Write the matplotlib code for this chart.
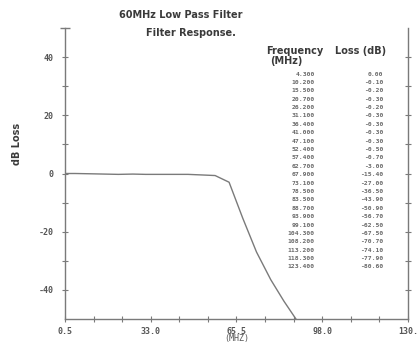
import matplotlib
matplotlib.use("Agg")
import matplotlib.pyplot as plt
import numpy as np

# table printed on the plot
freq = [4.3, 10.2, 15.5, 20.7, 26.2, 31.1, 36.4, 41.0, 47.1, 52.4, 57.4, 62.7,
        67.9, 73.1, 78.5, 83.5, 88.7, 93.9, 99.1, 104.3, 108.2, 113.2, 118.3, 123.4]
loss = [0.00, -0.10, -0.20, -0.30, -0.20, -0.30, -0.30, -0.30, -0.30, -0.50, -0.70, -3.00,
        -15.40, -27.00, -36.50, -43.90, -50.90, -56.70, -62.50, -67.50, -70.70, -74.10, -77.90, -80.60]

# curve starts at the left edge of the axis
start_freq = 0.5
start_loss = 0.0

xticks = [0.5, 33.0, 65.5, 98.0, 130.5]
xticklabels = ["0.5", "33.0", "65.5", "98.0", "130."]
yticks = [40, 20, 0, -20, -40]
yticklabels = ["40", "20", "0", "-20", "-40"]

grey = "#7a7a7a"
dark = "#3a3a3a"
mono = "DejaVu Sans Mono"

fig = plt.figure(figsize=(4.2, 3.47), dpi=100)
ax = fig.add_axes([0.155, 0.081, 0.816, 0.838])

ax.plot([start_freq] + freq, [start_loss] + loss, color=grey, lw=1.0)

ax.set_xlim(0.5, 130.5)
ax.set_ylim(-50, 50)

ax.set_xticks(xticks)
ax.set_xticklabels(xticklabels, family=mono, fontsize=6, color="#555555", fontweight="bold")
ax.set_xticks(np.linspace(0.5, 130.5, 13), minor=True)
ax.set_yticks(yticks)
ax.set_yticklabels(yticklabels, family=mono, fontsize=6, color="#555555", fontweight="bold")
ax.set_yticks(np.arange(-40, 50, 10), minor=True)

ax.tick_params(which="both", direction="inout", length=5, width=0.8, color=grey,
               right=True, top=False)
ax.tick_params(axis="y", pad=6)
ax.tick_params(axis="x", pad=3)

for s in ["left", "bottom", "right"]:
    ax.spines[s].set_color(grey)
    ax.spines[s].set_linewidth(1.0)
ax.spines["top"].set_visible(False)

# cap at the top of the y axis
ax.plot([0], [1], marker="_", markersize=7, mew=1.0, color=grey,
        transform=ax.transAxes, clip_on=False)

ax.set_xlabel("(MHZ)", family=mono, fontsize=6, color="#555555", labelpad=-1)
ax.set_ylabel("dB Loss", fontsize=7, color=dark, fontweight="bold")
ax.yaxis.set_label_coords(-0.125, 0.6)

fig.text(0.43, 0.957, "60MHz Low Pass Filter", ha="center", va="center",
         fontsize=7, color=dark, fontweight="bold")
fig.text(0.455, 0.905, "Filter Response.", ha="center", va="center",
         fontsize=7, color=dark, fontweight="bold")

# table header
fig.text(266 / 420, 1 - 51 / 347, "Frequency", ha="left", va="center",
         fontsize=7, color=dark, fontweight="bold")
fig.text(386 / 420, 1 - 51 / 347, "Loss (dB)", ha="right", va="center",
         fontsize=7, color=dark, fontweight="bold")
fig.text(270 / 420, 1 - 61 / 347, "(MHz)", ha="left", va="center",
         fontsize=7, color=dark, fontweight="bold")

rows_y = np.linspace(1 - 74 / 347, 1 - 267 / 347, len(freq))
for f, l, yy in zip(freq, loss, rows_y):
    fig.text(315 / 420, yy, "%.3f" % f, ha="right", va="center",
             family=mono, fontsize=4.6, color="#6a6a6a", fontweight="bold")
    fig.text(383 / 420, yy, "%.2f" % l, ha="right", va="center",
             family=mono, fontsize=4.6, color="#6a6a6a", fontweight="bold")

fig.savefig("out.png", dpi=100)
